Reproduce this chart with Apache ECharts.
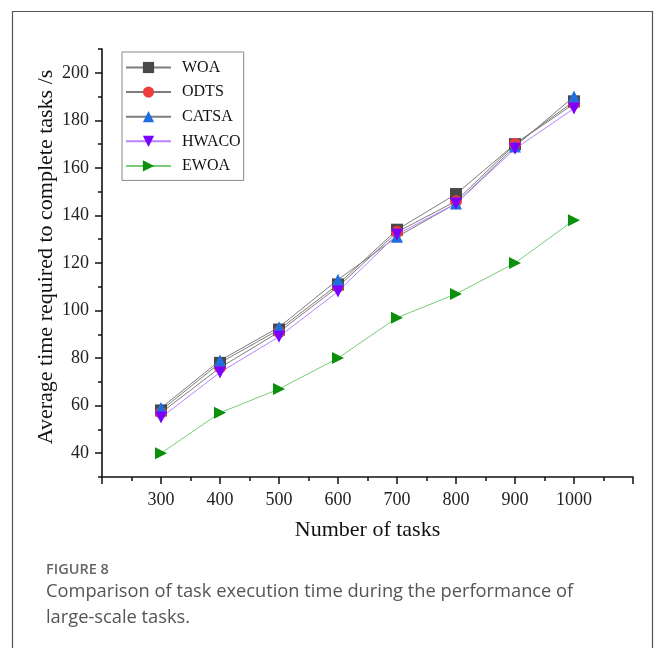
<!DOCTYPE html>
<html>
<head>
<meta charset="utf-8">
<script src="https://cdn.jsdelivr.net/npm/echarts@6.0.0/dist/echarts.min.js"></script>
<style>
  html, body { margin: 0; padding: 0; background: #fff; }
  #chart { width: 657px; height: 648px; }
</style>
</head>
<body>
<div id="chart"></div>
<script>
// Task counts on the x axis
const taskCounts = [300, 400, 500, 600, 700, 800, 900, 1000];

// Average completion time (s) per algorithm
const woa   = [58, 78, 92, 111, 134, 149, 170, 188];
const odts  = [57, 76, 91, 110, 133, 146, 170, 187];
const catsa = [59, 79, 93, 113, 131, 145, 169, 190];
const hwaco = [55, 74, 89, 108, 132, 145, 168, 185];
const ewoa  = [40, 57, 67, 80, 97, 107, 120, 138];

// Labelled tick values
const xTickLabels = [300, 400, 500, 600, 700, 800, 900, 1000];
const yTickLabels = [40, 60, 80, 100, 120, 140, 160, 180, 200];

const serif = 'Liberation Serif, Times New Roman, serif';

function pairs(vals) {
  return taskCounts.map((x, i) => [x, vals[i]]);
}

function lineSeries(name, vals, symbol, symbolColor, lineColor, rotate) {
  return {
    name: name,
    type: 'line',
    data: pairs(vals),
    symbol: symbol,
    symbolSize: 12,
    symbolRotate: rotate || 0,
    xAxisIndex: 0,
    yAxisIndex: 0,
    itemStyle: { color: symbolColor },
    lineStyle: { color: lineColor, width: 1 },
    emphasis: { disabled: true },
    animation: false
  };
}

const chart = echarts.init(document.getElementById('chart'), null, { renderer: 'canvas' });

const axisLineStyle = { show: true, lineStyle: { color: '#111', width: 1.6 } };

chart.setOption({
  backgroundColor: '#fff',
  animation: false,
  grid: { left: 102, right: 24, top: 49, bottom: 171, containLabel: false },
  legend: {
    orient: 'vertical',
    left: 122,
    top: 52,
    padding: [7, 3, 6, 3],
    itemWidth: 45,
    itemHeight: 14,
    itemGap: 7.6,
    borderColor: '#888',
    borderWidth: 1,
    textStyle: { fontFamily: serif, fontSize: 16, lineHeight: 17, color: '#111', padding: [0, 0, 0, 6] },
    data: ['WOA', 'ODTS', 'CATSA', 'HWACO', 'EWOA']
  },
  xAxis: [
    {
      type: 'value', min: 200, max: 1100, interval: 100,
      axisLine: axisLineStyle,
      axisTick: { show: true, length: 7, lineStyle: { color: '#111', width: 1.5 } },
      minorTick: { show: true, splitNumber: 2, length: 4, lineStyle: { color: '#111', width: 1.5 } },
      splitLine: { show: false },
      minorSplitLine: { show: false },
      axisLabel: {
        margin: 14,
        fontFamily: serif, fontSize: 18, color: '#222',
        formatter: v => (xTickLabels.indexOf(v) >= 0 ? String(v) : '')
      },
      name: 'Number of tasks',
      nameLocation: 'middle',
      nameGap: 42,
      nameMoveOverlap: false,
      nameTextStyle: { fontFamily: serif, fontSize: 22, color: '#111' }
    }
  ],
  yAxis: [
    {
      type: 'value', min: 30, max: 210, interval: 10,
      axisLine: axisLineStyle,
      axisTick: { show: true, length: 4, lineStyle: { color: '#111', width: 1.5 } },
      splitLine: { show: false },
      axisLabel: { show: false }
    },
    {
      type: 'value', min: 30, max: 210, position: 'left',
      axisLine: { show: false },
      axisTick: { show: true, length: 7, customValues: yTickLabels, lineStyle: { color: '#111', width: 1.5 } },
      splitLine: { show: false },
      axisLabel: {
        margin: 13,
        customValues: yTickLabels,
        fontFamily: serif, fontSize: 18, color: '#222'
      },
      name: 'Average time required to complete tasks /s',
      nameLocation: 'middle',
      nameGap: 45,
      nameMoveOverlap: false,
      nameTextStyle: { fontFamily: serif, fontSize: 22, color: '#111', padding: [0, 0, 0, 12] }
    }
  ],
  series: [
    lineSeries('WOA', woa, 'rect', '#484848', '#7d7d7d'),
    lineSeries('ODTS', odts, 'circle', '#f03c3c', '#7d7d7d'),
    lineSeries('CATSA', catsa, 'triangle', '#1f6fe0', '#7d7d7d'),
    lineSeries('HWACO', hwaco, 'triangle', '#7a00ff', '#b882ff', 180),
    lineSeries('EWOA', ewoa, 'triangle', '#0a900a', '#78cc78', -90)
  ],
  graphic: [
    {
      type: 'rect', silent: true,
      shape: { x: 12.5, y: 11.5, width: 640, height: 660 },
      style: { fill: 'none', stroke: '#555', lineWidth: 1.2 }
    },
    {
      type: 'text', left: 46, top: 562,
      style: { text: 'FIGURE 8', fontFamily: 'Open Sans, sans-serif', fontSize: 14.5, fontWeight: 600, fill: '#666' }
    },
    {
      type: 'text', left: 46, top: 579,
      style: {
        text: 'Comparison of task execution time during the performance of\nlarge-scale tasks.',
        fontFamily: 'Open Sans, sans-serif', fontSize: 18.3, lineHeight: 26, fill: '#555'
      }
    }
  ]
});
</script>
</body>
</html>
